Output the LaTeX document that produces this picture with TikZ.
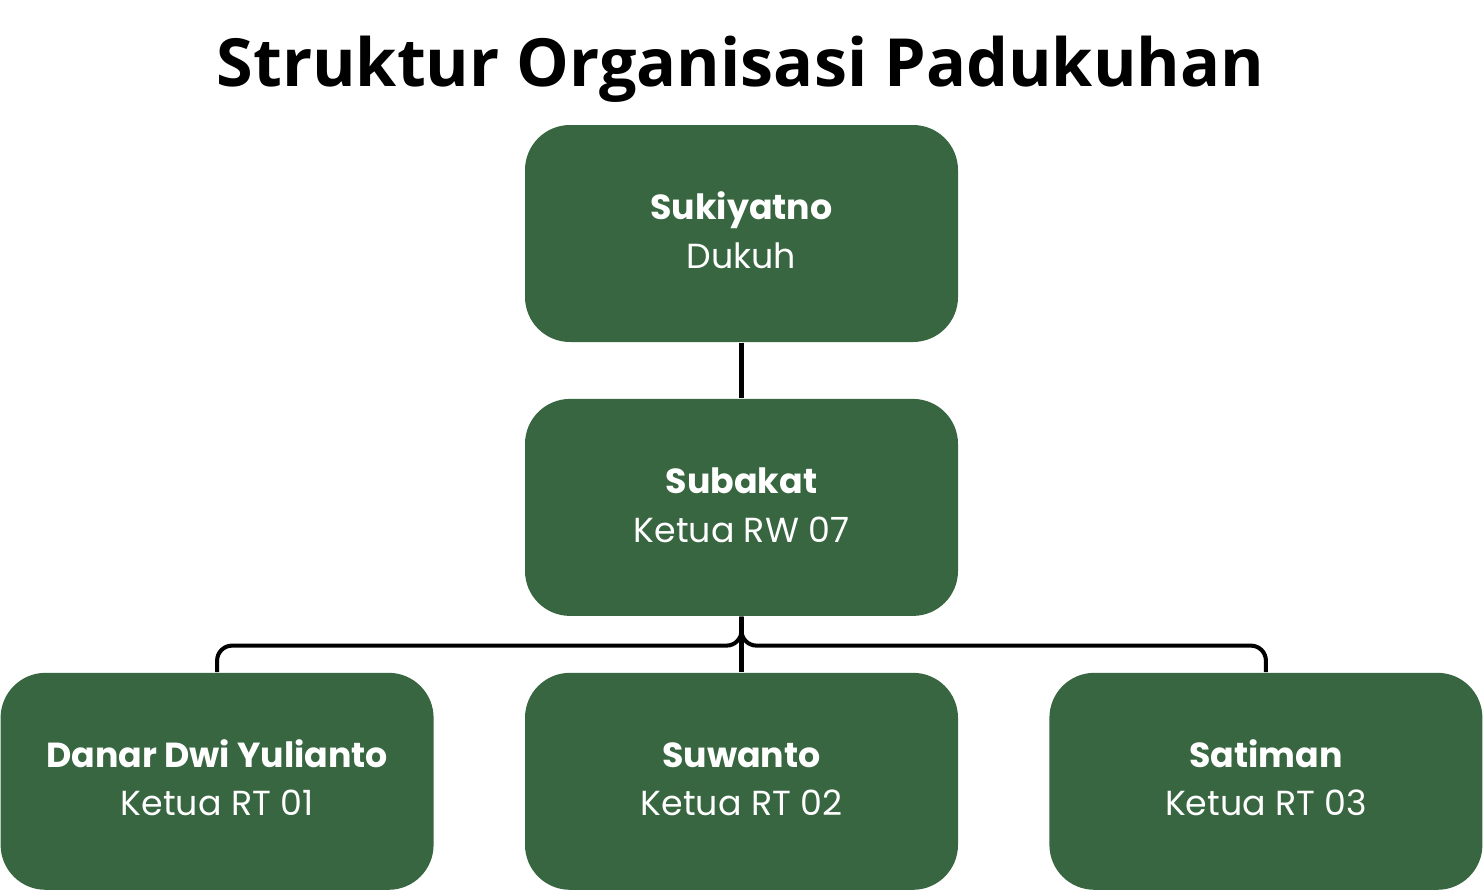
\documentclass[tikz,border=0pt]{standalone}
\usepackage{fontspec}
\setmainfont{Poppins}
\newfontfamily\titlefont{Open Sans}
\usetikzlibrary{positioning,calc}
\definecolor{daun}{RGB}{56,102,65}
\tikzstyle{block} = [fill=daun, rectangle, rounded corners=0.45cm,
    minimum height=2.17cm, minimum width=4.33cm, align=center,
    text=white, font=\fontsize{9.9pt}{13.7pt}\selectfont]
\tikzstyle{line} = [draw, line width=1.15pt, rounded corners=0.15cm]
\newcommand{\jabatan}[2]{\rule{0pt}{8pt}\textbf{#1}\\#2\rule[-2pt]{0pt}{2pt}}

\begin{document}
\begin{tikzpicture}[node distance=0.555cm and 0.90cm]
    \useasboundingbox (0,0) rectangle (14.83,8.91);
    \node (title) at (7.405,8.22) {\titlefont\bfseries\fontsize{18.9pt}{22pt}\selectfont Struktur Organisasi Padukuhan};

    \node (dukuh) [block] at (7.415,6.575) {\jabatan{Sukiyatno}{Dukuh}};
    \node (rw) [block,below=of dukuh] {\jabatan{Subakat}{Ketua RW 07}};
    \node (rt02) [block,below=of rw] {\jabatan{Suwanto}{Ketua RT 02}};
    \node (rt01) [block,left=of rt02] {\jabatan{Danar Dwi Yulianto}{Ketua RT 01}};
    \node (rt03) [block,right=of rt02] {\jabatan{Satiman}{Ketua RT 03}};

    % tree lines
    \coordinate (split) at ($(rw.south)+(0,-0.29)$);
    \draw[line] (dukuh.south) -- (rw.north);
    \draw[line] (rw.south) -- (rt02.north);
    \draw[line] (rw.south) -- (split) -| (rt01.north);
    \draw[line] (rw.south) -- (split) -| (rt03.north);
\end{tikzpicture}
\end{document}
